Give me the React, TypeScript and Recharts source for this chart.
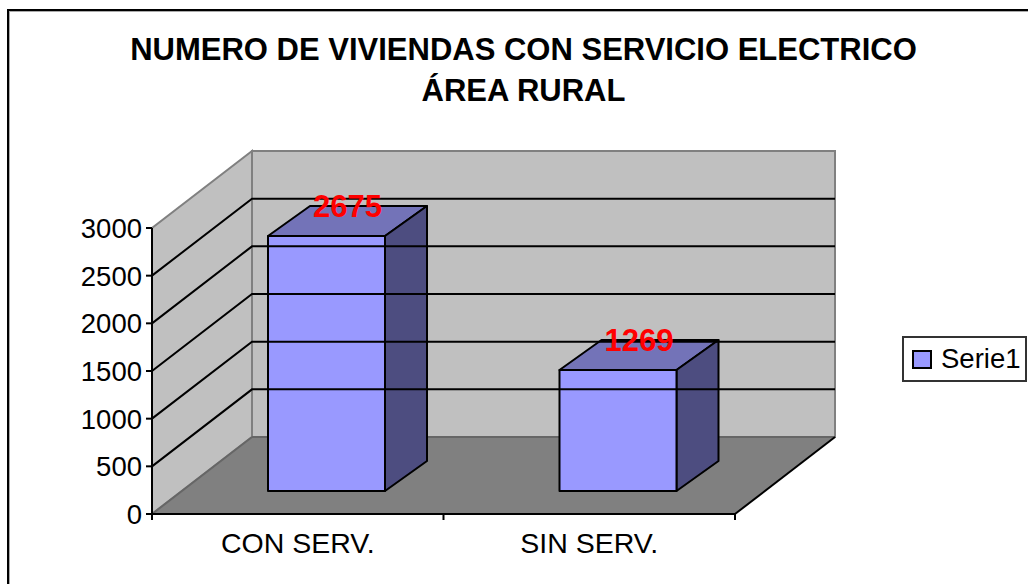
import { Bar, BarChart, LabelList, Legend, XAxis, YAxis, usePlotArea } from 'recharts'

const categories = ['CON SERV.', 'SIN SERV.']
const serie1 = [2675, 1269]
const yTicks = [0, 500, 1000, 1500, 2000, 2500, 3000]
const titleLines = ['NUMERO DE VIVIENDAS CON SERVICIO ELECTRICO', 'ÁREA RURAL']

const rows = categories.map((name, i) => ({ name, Serie1: serie1[i] }))

const FONT = '"Liberation Sans", Arial, sans-serif'
const WIDTH = 1028
const HEIGHT = 584
const PLOT_LEFT = 152
const PLOT_RIGHT = 735
const BAND = (PLOT_RIGHT - PLOT_LEFT) / categories.length
const LEGEND_WIDTH = 125
// depth of the fake 3D box, and of each bar
const WALL_DX = 100
const WALL_DY = -77
const BAR_DX = 42
const BAR_DY = -30
// bars sit off the front edge of the floor
const BAR_SHIFT_X = 29
const BAR_SHIFT_Y = -23

function pts(list: number[][]) {
  return list.map((p) => p.join(',')).join(' ')
}

function Walls() {
  const plot = usePlotArea()
  if (!plot) return null
  const { x, y, width, height } = plot
  const b = y + height
  const r = x + width
  return (
    <g>
      <polygon
        points={pts([[x, b], [x, y], [x + WALL_DX, y + WALL_DY], [x + WALL_DX, b + WALL_DY]])}
        fill="#c0c0c0"
        stroke="#808080"
        strokeWidth={2}
      />
      <polygon
        points={pts([[x + WALL_DX, y + WALL_DY], [r + WALL_DX, y + WALL_DY], [r + WALL_DX, b + WALL_DY], [x + WALL_DX, b + WALL_DY]])}
        fill="#c0c0c0"
        stroke="#808080"
        strokeWidth={2}
      />
      <polygon
        points={pts([[x, b], [x + WALL_DX, b + WALL_DY], [r + WALL_DX, b + WALL_DY], [r, b]])}
        fill="#808080"
        stroke="none"
      />
      <line x1={x + WALL_DX} y1={b + WALL_DY} x2={r + WALL_DX} y2={b + WALL_DY} stroke="#666" strokeWidth={2} />
      <line x1={x} y1={b} x2={x + WALL_DX} y2={b + WALL_DY} stroke="#666" strokeWidth={2} />
      <line x1={r} y1={b} x2={r + WALL_DX} y2={b + WALL_DY} stroke="#000" strokeWidth={2} />
    </g>
  )
}

// y tick also draws the grid line running along both walls
function YTick({ x, y, payload }: any) {
  const v = payload.value
  const isEnd = v === 0 || v === 3000
  return (
    <g>
      {!isEnd && (
        <polyline
          points={pts([[PLOT_LEFT, y], [PLOT_LEFT + WALL_DX, y + WALL_DY], [PLOT_RIGHT + WALL_DX, y + WALL_DY]])}
          fill="none"
          stroke="#000"
          strokeWidth={2}
        />
      )}
      <line x1={PLOT_LEFT - 6} y1={y} x2={PLOT_LEFT} y2={y} stroke="#000" strokeWidth={2} />
      <text x={x - 2} y={y + 10} textAnchor="end" fontFamily={FONT} fontSize={27.5} fill="#000">
        {v}
      </text>
    </g>
  )
}

// ticks on this axis mark the category edges, not the centres
function XTick({ x, y, payload, index }: any) {
  const left = x - BAND / 2
  return (
    <g>
      <line x1={left} y1={y - 8} x2={left} y2={y - 2} stroke="#000" strokeWidth={2} />
      {index === categories.length - 1 && (
        <line x1={x + BAND / 2} y1={y - 8} x2={x + BAND / 2} y2={y - 2} stroke="#000" strokeWidth={2} />
      )}
      <text x={x} y={y + 31} textAnchor="middle" fontFamily={FONT} fontSize={28.5} fill="#000">
        {payload.value}
      </text>
    </g>
  )
}

function Bar3D({ x, y, width, height }: any) {
  const fx = x + BAR_SHIFT_X
  const fy = y + BAR_SHIFT_Y
  const fr = fx + width
  const fb = fy + height
  return (
    <g stroke="#000" strokeWidth={2} strokeLinejoin="round">
      <polygon points={pts([[fx, fy], [fx + BAR_DX, fy + BAR_DY], [fr + BAR_DX, fy + BAR_DY], [fr, fy]])} fill="#7373b8" />
      <polygon points={pts([[fr, fy], [fr + BAR_DX, fy + BAR_DY], [fr + BAR_DX, fb + BAR_DY], [fr, fb]])} fill="#4d4d80" />
      <rect x={fx} y={fy} width={width} height={height} fill="#9999ff" />
    </g>
  )
}

function BarValue({ x, y, width, value }: any) {
  return (
    <text
      x={x + width / 2 + BAR_SHIFT_X + BAR_DX / 2}
      y={y + BAR_SHIFT_Y + BAR_DY + 11}
      textAnchor="middle"
      fontFamily={FONT}
      fontSize={31}
      fontWeight="bold"
      fill="#ff0000"
    >
      {value}
    </text>
  )
}

function LegendBox() {
  return (
    <div
      style={{
        width: 121,
        height: 42,
        border: '2px solid #333',
        background: '#fff',
        display: 'flex',
        alignItems: 'center',
        fontFamily: FONT,
        fontSize: 27.5,
        color: '#000',
      }}
    >
      <span style={{ width: 16, height: 15, margin: '0 9px 0 8px', background: '#9999ff', border: '2px solid #000', display: 'block' }} />
      Serie1
    </div>
  )
}

export default function App() {
  return (
    <div style={{ position: 'absolute', left: 0, top: 0, width: WIDTH, height: HEIGHT, background: '#fff', overflow: 'hidden' }}>
      <div style={{ position: 'absolute', left: 7, top: 9, width: 1040, height: 600, border: '2px solid #000', boxShadow: 'inset 1px 1px 0 #aaa' }} />
      <BarChart
        width={WIDTH}
        height={HEIGHT}
        data={rows}
        margin={{ top: 228, right: WIDTH - PLOT_RIGHT - LEGEND_WIDTH, bottom: 0, left: 0 }}
        barSize={117}
        style={{ position: 'absolute', left: 0, top: 0 }}
      >
        <Walls />
        <XAxis
          dataKey="name"
          height={70}
          tickLine={false}
          tickSize={6}
          axisLine={{ stroke: '#000', strokeWidth: 2 }}
          tick={<XTick />}
          interval={0}
        />
        <YAxis
          width={PLOT_LEFT}
          domain={[0, 3000]}
          ticks={yTicks}
          tickSize={6}
          tickLine={false}
          axisLine={{ stroke: '#000', strokeWidth: 2 }}
          tick={<YTick />}
          interval={0}
        />
        <Bar dataKey="Serie1" isAnimationActive={false} shape={<Bar3D />}>
          <LabelList dataKey="Serie1" content={<BarValue />} />
        </Bar>
        <Legend
          layout="vertical"
          align="right"
          verticalAlign="middle"
          width={LEGEND_WIDTH}
          content={<LegendBox />}
          wrapperStyle={{ position: 'absolute', left: 902, top: 336, width: LEGEND_WIDTH, height: 46, bottom: 'auto', right: 'auto' }}
        />
        <text textAnchor="middle" fontFamily={FONT} fontSize={31} fontWeight="bold" fill="#000">
          <tspan x={523.5} y={60}>{titleLines[0]}</tspan>
          <tspan x={523.5} y={101}>{titleLines[1]}</tspan>
        </text>
      </BarChart>
    </div>
  )
}
